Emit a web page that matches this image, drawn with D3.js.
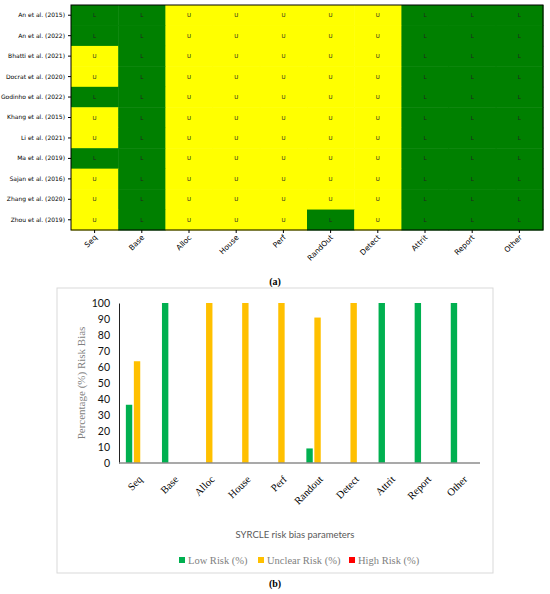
<!DOCTYPE html>
<html><head><meta charset="utf-8">
<script src="https://cdn.jsdelivr.net/npm/d3@7"></script>
<style>body{margin:0;background:#fff}svg{display:block}</style>
</head><body>
<svg id="c" width="550" height="594"></svg>
<script>
// ---- Panel (a) data ----
const studies = ["An et al. (2015)","An et al. (2022)","Bhatti et al. (2021)","Docrat et al. (2020)","Godinho et al. (2022)","Khang et al. (2015)","Li et al. (2021)","Ma et al. (2019)","Sajan et al. (2016)","Zhang et al. (2020)","Zhou et al. (2019)"];
const domainsA = ["Seq","Base","Alloc","House","Perf","RandOut","Detect","Attrit","Report","Other"];
// one string per study, one letter per domain
const ratings = [
  "LLUUUUULLL",
  "LLUUUUULLL",
  "ULUUUUULLL",
  "ULUUUUULLL",
  "LLUUUUULLL",
  "ULUUUUULLL",
  "ULUUUUULLL",
  "LLUUUUULLL",
  "ULUUUUULLL",
  "ULUUUUULLL",
  "ULUUULULLL"
];
// ---- Panel (b) data ----
const domainsB = ["Seq","Base","Alloc","House","Perf","Randout","Detect","Attrit","Report","Other"];
const seriesNames = ["Low Risk (%)","Unclear Risk (%)","High Risk (%)"];
const lowRisk     = [36.4,100,0,0,0,9.1,0,100,100,100];
const unclearRisk = [63.6,0,100,100,100,90.9,100,0,0,0];
const highRisk    = [0,0,0,0,0,0,0,0,0,0];
const yTicks = [0,10,20,30,40,50,60,70,80,90,100];

const svg = d3.select("#c");

// ================= Panel (a) =================
const cellColor = {L:"#008000", U:"#ffff00"};
const xa = d3.scaleBand().domain(domainsA).range([71,543]);
const ya = d3.scaleBand().domain(studies).range([5,230]);
const gA = svg.append("g");
const cells = [];
ratings.forEach((r,i)=>{ r.split("").forEach((v,j)=>cells.push({s:studies[i],d:domainsA[j],v})); });
gA.selectAll("rect.cell").data(cells).join("rect")
  .attr("x",d=>xa(d.d)).attr("y",d=>ya(d.s))
  .attr("width",xa.bandwidth()+0.5).attr("height",ya.bandwidth()+0.5)
  .attr("fill",d=>cellColor[d.v]);
gA.selectAll("text.cell").data(cells).join("text")
  .attr("x",d=>xa(d.d)+xa.bandwidth()/2).attr("y",d=>ya(d.s)+ya.bandwidth()/2)
  .attr("text-anchor","middle").attr("dominant-baseline","central")
  .attr("font-family","DejaVu Sans").attr("font-size",5.5).attr("fill","#222")
  .text(d=>d.v);
gA.append("rect").attr("x",71).attr("y",5).attr("width",472).attr("height",225)
  .attr("fill","none").attr("stroke","#000").attr("stroke-width",1);
const axLeftA = gA.append("g").attr("transform","translate(71,0)")
  .call(d3.axisLeft(ya).tickSize(3).tickSizeOuter(0));
axLeftA.select(".domain").remove();
axLeftA.selectAll("text").attr("font-family","DejaVu Sans").attr("font-size",6).attr("fill","#000");
const axBotA = gA.append("g").attr("transform","translate(0,230)")
  .call(d3.axisBottom(xa).tickSize(3).tickSizeOuter(0).tickFormat(""));
axBotA.select(".domain").remove();
gA.selectAll("g.xla").data(domainsA).join("g")
  .attr("transform",d=>"translate("+(xa(d)+xa.bandwidth()/2+3)+",238) rotate(-45)")
  .append("text").attr("text-anchor","end").attr("font-family","DejaVu Sans")
  .attr("font-size",7.5).attr("fill","#000").text(d=>d);
svg.append("text").attr("x",275).attr("y",285).attr("text-anchor","middle")
  .attr("font-family","Liberation Serif").attr("font-weight","bold").attr("font-size",10).text("(a)");

// ================= Panel (b) =================
svg.append("rect").attr("x",57).attr("y",288).attr("width",436).attr("height",285)
  .attr("fill","#fff").attr("stroke","#d9d9d9").attr("stroke-width",1);
const colors = ["#00b050","#ffc000","#ff0000"];
const x0 = d3.scaleBand().domain(domainsB).range([119,480]).paddingInner(0.38).paddingOuter(0.19);
const x1 = d3.scaleBand().domain(seriesNames).range([0,x0.bandwidth()]).paddingInner(0.2);
const yb = d3.scaleLinear().domain([0,100]).range([463,303]);
const seriesVals = [lowRisk, unclearRisk, highRisk];
const gB = svg.append("g");
domainsB.forEach((c,i)=>{
  seriesNames.forEach((s,k)=>{
    const v = seriesVals[k][i];
    if (v>0) gB.append("rect").attr("x",x0(c)+x1(s)).attr("y",yb(v))
      .attr("width",x1.bandwidth()).attr("height",yb(0)-yb(v)).attr("fill",colors[k]);
  });
});
const axY = gB.append("g").attr("transform","translate(119,0)")
  .call(d3.axisLeft(yb).tickValues(yTicks).tickSize(0).tickPadding(9));
axY.select(".domain").attr("stroke","#222").attr("stroke-width",1);
axY.selectAll("text").attr("font-family","Lato").attr("font-size",10.5).attr("fill","#111");
gB.append("line").attr("x1",119).attr("x2",480).attr("y1",463).attr("y2",463)
  .attr("stroke","#8c8c8c").attr("stroke-width",1.5);
gB.selectAll("g.xl").data(domainsB).join("g")
  .attr("transform",d=>"translate("+(x0(d)+x0.bandwidth()/2+6)+",480) rotate(-45)")
  .append("text").attr("text-anchor","end").attr("font-family","Liberation Serif")
  .attr("font-size",10.5).attr("fill","#000").text(d=>d);
svg.append("text").attr("transform","translate(85,383) rotate(-90)").attr("text-anchor","middle")
  .attr("font-family","Liberation Serif").attr("font-size",11).attr("fill","#7f7f7f").text("Percentage (%) Risk Bias");
svg.append("text").attr("x",295).attr("y",538).attr("text-anchor","middle")
  .attr("font-family","Lato").attr("font-size",9.5).attr("fill","#595959").text("SYRCLE risk bias parameters");
const legX = [179,258,349];
seriesNames.forEach((s,k)=>{
  svg.append("rect").attr("x",legX[k]).attr("y",557).attr("width",6).attr("height",6).attr("fill",colors[k]);
  svg.append("text").attr("x",legX[k]+9).attr("y",563.5).attr("font-family","Liberation Serif")
    .attr("font-size",10.5).attr("fill","#7f7f7f").text(s);
});
svg.append("text").attr("x",275).attr("y",587).attr("text-anchor","middle")
  .attr("font-family","Liberation Serif").attr("font-weight","bold").attr("font-size",10).text("(b)");
</script>
</body></html>
